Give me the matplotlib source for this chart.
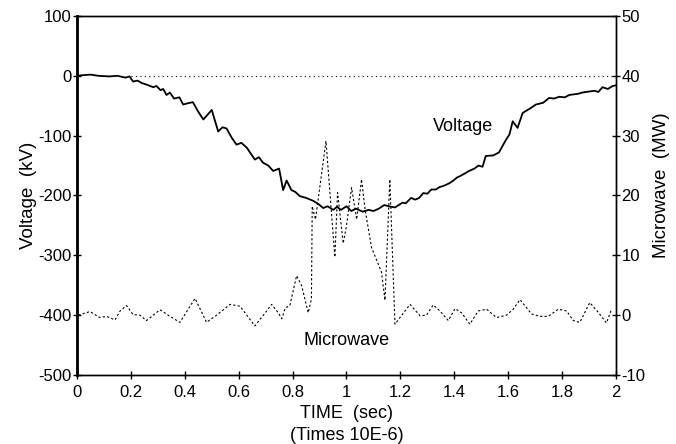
import matplotlib
matplotlib.use("Agg")
import matplotlib.pyplot as plt

plt.rcParams['font.family'] = ['Liberation Sans', 'DejaVu Sans']
plt.rcParams['axes.unicode_minus'] = False

# Voltage (kV), left axis
v_time = [0.0, 0.02, 0.05, 0.08, 0.12, 0.15, 0.18, 0.195, 0.208, 0.225, 0.24, 0.26, 0.283, 0.295,
          0.31, 0.32, 0.332, 0.345, 0.36, 0.38, 0.394, 0.41,
          0.43, 0.45, 0.469, 0.5, 0.524, 0.54, 0.555, 0.575, 0.592, 0.61, 0.63, 0.66, 0.675, 0.69,
          0.71, 0.728, 0.75, 0.765,
          0.778, 0.796, 0.81, 0.827, 0.85, 0.877, 0.895, 0.914, 0.93, 0.951, 0.965, 0.98, 1.0,
          1.018, 1.035, 1.06, 1.083, 1.1, 1.12, 1.14, 1.158,
          1.18, 1.208, 1.22, 1.24, 1.255, 1.27, 1.285, 1.30, 1.315, 1.332, 1.345, 1.36, 1.38,
          1.394, 1.41, 1.42, 1.44, 1.455, 1.475, 1.49, 1.505, 1.517, 1.545,
          1.566, 1.592, 1.605, 1.617, 1.635, 1.654, 1.68, 1.703, 1.73, 1.752, 1.77, 1.79, 1.81,
          1.827, 1.86, 1.875, 1.889, 1.92, 1.935, 1.95, 1.97, 1.988, 2.0]
v_kv = [0, 1, 2, 0, -1, 0, -3, -1, -9.5, -8, -12, -15, -19, -17,
        -24, -22, -32, -28, -38, -36, -48, -46,
        -44, -60, -73, -57, -93, -86, -88, -104, -115, -112, -120, -140, -136, -145,
        -150, -159, -155, -191,
        -175, -191, -194, -201, -204, -209, -214, -221, -218, -224, -219, -224, -218,
        -226, -222, -227, -224, -226, -222, -216, -218,
        -220, -212, -213, -204, -207, -204, -196, -197, -190, -190, -186, -184, -180,
        -176, -170, -168, -163, -159, -155, -150, -152, -134, -133,
        -128, -107, -98, -76, -87, -62, -55, -48, -45, -37, -38, -35, -36,
        -32, -30, -28, -27, -25, -27, -19, -22, -17, -16]

# Microwave (MW), right axis
m_time = [0.005, 0.048, 0.085, 0.11, 0.141, 0.16, 0.184, 0.208, 0.233, 0.258, 0.308, 0.345,
          0.382, 0.438, 0.481, 0.518, 0.568, 0.605, 0.66, 0.704, 0.722, 0.747, 0.76, 0.773,
          0.79, 0.815, 0.834, 0.858, 0.87, 0.873, 0.885, 0.924, 0.957, 0.967, 0.988, 1.0,
          1.019, 1.038, 1.056, 1.069, 1.093, 1.13, 1.143, 1.161, 1.18, 1.236, 1.273, 1.297,
          1.322, 1.347, 1.378, 1.403, 1.427, 1.458, 1.489, 1.52, 1.557, 1.594, 1.619, 1.644,
          1.687, 1.718, 1.749, 1.786, 1.817, 1.842, 1.866, 1.903, 1.934, 1.965, 1.984]
m_mw = [0, 0.6, -0.4, -0.2, -0.8, 0.7, 1.6, 0.1, 0, -0.9, 0.9, -0.2,
        -1.2, 2.8, -1.2, 0, 1.8, 1.5, -1.8, 0.7, 1.8, 0.4, -0.6, 1.2,
        1.6, 6.6, 4.9, 0.4, 2.7, 18.2, 16, 29.1, 9.7, 20.5, 12, 14.9,
        21.3, 16, 22.7, 17.7, 11.3, 7.2, 2.5, 22.7, -1.5, 1.8, -0.1, 0,
        1.7, 0.7, -0.9, 1.1, 0.4, -1.5, 0.7, 1, -0.4, 0, 1, 2.6,
        0.2, -0.2, -0.2, 1, 0.7, -0.9, -1.2, 2.1, 0.5, -1.3, 1]

x_ticks = [0, 0.2, 0.4, 0.6, 0.8, 1, 1.2, 1.4, 1.6, 1.8, 2]
x_ticklabels = ['0', '0.2', '0.4', '0.6', '0.8', '1', '1.2', '1.4', '1.6', '1.8', '2']
left_ticks = [100, 0, -100, -200, -300, -400, -500]
right_ticks = [50, 40, 30, 20, 10, 0, -10]

fig = plt.figure(figsize=(6.76, 4.44), dpi=100)
ax = fig.add_axes([0.1139, 0.1554, 0.7972, 0.8086])
ax2 = ax.twinx()

ax.plot([0.2, 2.0], [0, 0], color='black', lw=0.8, linestyle=(0, (1, 3)))
ax.plot(v_time, v_kv, color='black', lw=1.3)
ax2.plot(m_time, m_mw, color='black', lw=0.8, linestyle=(0, (2, 2)))

ax.set_xlim(0, 2)
ax.set_ylim(-500, 100)
ax2.set_ylim(-10, 50)
ax.set_xticks(x_ticks)
ax.set_xticklabels(x_ticklabels)
ax.set_yticks(left_ticks)
ax2.set_yticks(right_ticks)

for a in (ax, ax2):
    a.tick_params(direction='inout', length=6, width=1, labelsize=12, colors='black')
    for s in a.spines.values():
        s.set_linewidth(1.0)
ax.spines['left'].set_linewidth(2.0)
ax.tick_params(axis='x', pad=4)
ax.tick_params(axis='y', pad=1)
ax2.tick_params(axis='y', pad=1)

ax.set_ylabel('Voltage  (kV)', fontsize=13.5, labelpad=1)
ax2.set_ylabel('Microwave  (MW)', fontsize=13.5)
ax2.yaxis.set_label_coords(1.068, 0.53)
ax.set_xlabel('TIME  (sec)\n(Times 10E-6)', fontsize=13, labelpad=4, linespacing=1.4)

ax.text(1.432, -85, 'Voltage', fontsize=13, ha='center', va='center')
ax.text(1.002, -443, 'Microwave', fontsize=13, ha='center', va='center')

fig.savefig('out.png', dpi=100)
